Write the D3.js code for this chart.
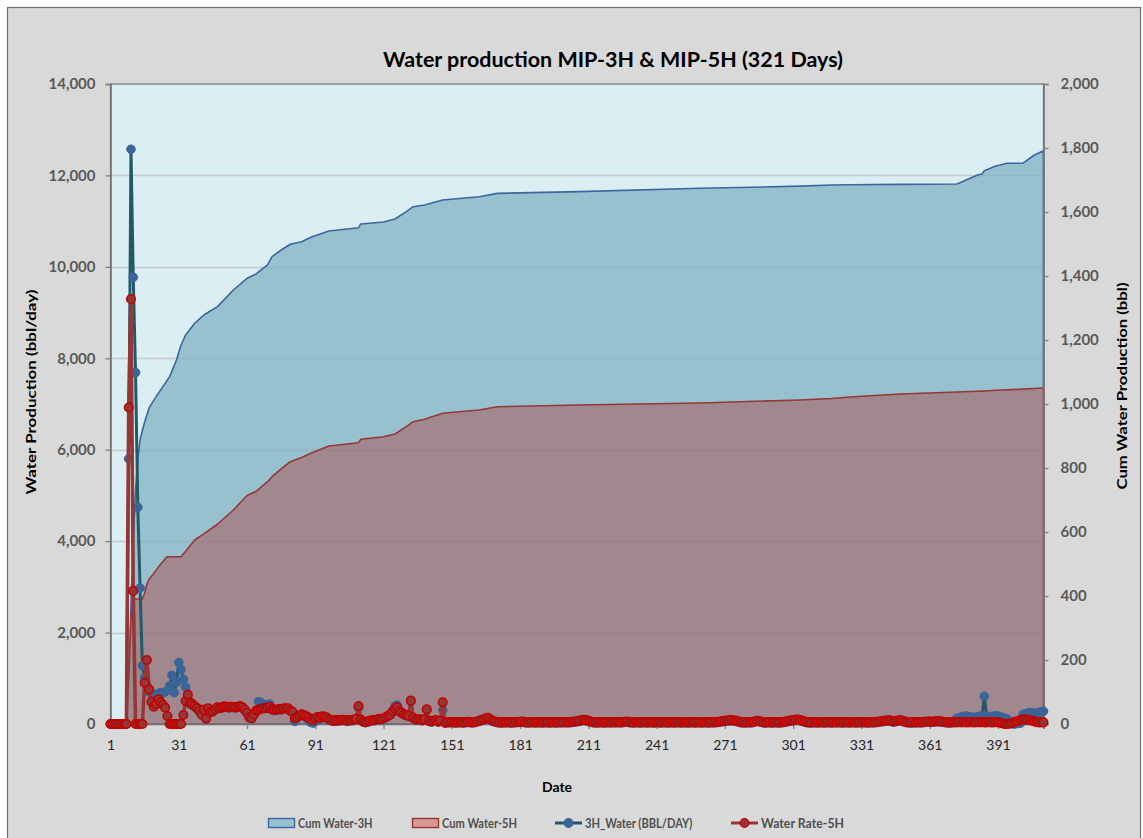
<!DOCTYPE html>
<html><head><meta charset="utf-8">
<script src="https://cdn.jsdelivr.net/npm/d3@7"></script>
<style>
html,body{margin:0;padding:0;background:#fff;}
svg{display:block;font-family:Lato,'Open Sans',sans-serif;}
</style></head><body>
<svg id="chart" width="1143" height="838"></svg>
<script>
// ---------------- DATA ----------------
const dayCount = 411;
const days = d3.range(1, dayCount + 1);           // category axis: day 1 .. 411
const xTickLabels = [1, 31, 61, 91, 121, 151, 181, 211, 241, 271, 301, 331, 361, 391];
const leftTicks = [0, 2000, 4000, 6000, 8000, 10000, 12000, 14000];
const rightTicks = [0, 200, 400, 600, 800, 1000, 1200, 1400, 1600, 1800, 2000];

// daily water rates (bbl/day)
const rate3H = [
  0,0,0,0,0,0,0,0,829,1796,
  1396,1098,677,425,182,146,120,100,95,91,
  93,95,98,96,100,105,120,152,98,130,
  192,170,140,116,80,62,58,54,48,40,
  28,42,15,46,36,38,44,50,48,50,
  53,52,50,52,51,50,52,54,50,43,
  33,19,16,28,40,70,68,62,58,60,
  62,44,42,43,45,44,46,47,47,40,
  36,8,20,24,28,26,20,12,5,3,
  8,12,15,20,21,18,13,10,8,10,
  9,10,11,10,8,10,10,12,14,50,
  12,6,4,6,8,10,10,12,14,13,
  16,20,24,28,38,56,59,38,33,28,
  26,23,70,18,13,12,13,10,13,43,
  8,6,8,10,6,8,44,3,4,4,
  4,4,3,4,4,3,4,5,4,4,
  4,6,8,10,12,14,15,11,8,6,
  4,4,3,4,4,4,3,4,4,5,
  5,6,4,4,3,4,4,3,4,4,
  3,4,4,3,4,4,3,4,4,4,
  4,4,4,5,6,7,8,10,11,10,
  8,6,4,4,3,4,4,3,4,4,
  4,4,4,4,4,4,5,6,4,4,
  3,4,4,3,4,4,3,4,4,3,
  4,4,3,4,4,3,4,4,3,4,
  4,3,4,4,3,4,4,3,4,4,
  3,4,4,3,4,4,4,5,6,7,
  8,9,10,10,9,8,6,4,4,3,
  4,4,4,6,8,7,5,4,3,4,
  4,3,4,4,3,4,5,6,8,9,
  10,11,12,10,8,6,4,4,3,4,
  4,3,4,4,3,4,4,3,4,4,
  4,4,3,4,4,3,4,4,3,4,
  4,4,4,3,4,4,4,5,6,7,
  8,9,10,8,6,7,9,10,8,6,
  4,4,3,4,4,4,4,4,5,6,
  6,5,6,7,7,6,5,4,4,3,
  4,8,18,20,22,24,25,23,22,20,
  21,23,24,26,87,25,22,20,24,26,
  25,22,20,18,16,2,1,0,1,2,
  3,30,32,34,36,35,33,34,36,38,
  40
];
const rate5H = [
  0,0,0,0,0,0,0,0,989,1328,
  416,0,0,0,0,129,200,108,69,54,
  62,77,68,60,51,25,0,0,0,0,
  0,0,28,72,92,67,62,56,50,42,
  30,45,17,49,38,40,46,52,50,52,
  55,54,52,54,53,52,54,56,52,45,
  35,21,18,30,42,44,47,49,49,52,
  54,46,44,45,47,46,48,49,49,42,
  38,18,22,26,30,28,24,20,15,12,
  18,22,20,24,23,20,15,12,10,12,
  11,12,13,12,10,12,12,14,16,56,
  14,8,6,8,10,12,12,14,16,15,
  18,22,26,30,40,48,52,40,35,30,
  28,25,73,20,15,14,15,12,15,46,
  10,8,10,12,8,10,68,4,5,6,
  6,5,5,6,5,5,6,7,6,5,
  6,8,10,12,15,18,19,14,10,8,
  6,5,5,6,5,6,5,5,6,6,
  7,8,6,5,5,6,5,5,6,5,
  5,6,5,5,6,5,5,6,5,6,
  6,5,6,7,8,9,10,12,13,12,
  10,8,6,5,5,6,5,5,6,5,
  5,6,5,6,5,6,7,8,6,5,
  5,6,5,5,6,5,5,6,5,5,
  6,5,5,6,5,5,6,5,5,6,
  5,5,6,5,5,6,5,5,6,5,
  5,6,5,5,6,5,6,7,8,9,
  10,11,12,12,11,10,8,6,5,5,
  6,5,6,8,10,9,7,5,5,6,
  5,5,6,5,5,6,7,8,10,11,
  12,13,14,12,10,8,6,5,5,6,
  5,5,6,5,5,6,5,5,6,5,
  6,5,5,6,5,5,6,5,5,6,
  5,6,5,5,6,5,6,7,8,9,
  10,11,12,10,8,9,11,12,10,8,
  6,5,5,6,5,6,5,6,7,8,
  8,7,8,9,9,8,7,6,5,5,
  6,5,5,6,5,6,5,5,6,5,
  5,6,5,6,5,5,6,5,5,6,
  5,4,2,0,0,1,3,5,8,10,
  12,14,15,13,12,10,8,6,5,5,
  5
];

// cumulative water (bbl) – read at these days
const cumDays = [
  1,8,9,10,11,12,13,14,15,16,
  17,18,20,22,25,26,27,30,32,34,
  38,42,48,55,61,65,70,72,76,80,
  85,89,97,110,111,121,126,131,134,139,
  147,163,171,207,260,304,318,326,348,373,
  382,384,385,390,392,395,402,407,411
];
const cum3H = [
  0,0,829,2625,4021,5119,5796,6221,6420,6600,
  6760,6920,7080,7233,7452,7525,7598,7963,8291,8510,
  8765,8947,9129,9494,9750,9844,10041,10222,10369,10494,
  10551,10647,10784,10857,10938,10981,11047,11207,11316,11353,
  11463,11535,11608,11645,11718,11765,11790,11795,11805,11812,
  12010,12031,12104,12206,12230,12265,12268,12447,12541
];
const cum5H = [
  0,0,989,2317,2733,2733,2733,2733,2733,2862,
  3062,3170,3293,3432,3611,3660,3660,3660,3660,3780,
  4025,4160,4370,4681,5000,5090,5300,5410,5580,5738,
  5830,5921,6081,6154,6228,6285,6344,6504,6613,6665,
  6796,6869,6941,6978,7022,7088,7120,7153,7219,7263,
  7278,7282,7285,7300,7306,7310,7325,7338,7350
];

const titleText = "Water production MIP-3H & MIP-5H (321 Days)";
const leftTitle = "Water Production (bbl/day)";
const rightTitle = "Cum Water Production (bbl)";
const xTitle = "Date";
const legendItems = [
  {name: "Cum Water-3H", kind: "area", key: "c3"},
  {name: "Cum Water-5H", kind: "area", key: "c5"},
  {name: "3H_Water (BBL/DAY)", kind: "line", key: "r3"},
  {name: "Water Rate-5H", kind: "line", key: "r5"}
];

// ---------------- STYLE ----------------
const col = {
  c3: {fill: "#97C1CF", stroke: "#3D65A0"},
  c5: {fill: "#A1888F", stroke: "#953735", legendFill: "#D99694"},
  r3: {line: "#215968", marker: "#3A6598", mstroke: "#3A6598"},
  r5: {line: "#953735", marker: "#953735", mstroke: "#C00000"}
};

const svg = d3.select("#chart");
const P = {l: 110.5, r: 1043.5, t: 84, b: 724};
const x = d3.scaleLinear().domain([1, dayCount]).range([P.l, P.r]);
const yL = d3.scaleLinear().domain([0, 14000]).range([P.b, P.t]);
const yR = d3.scaleLinear().domain([0, 2000]).range([P.b, P.t]);

// chart background
svg.append("rect").attr("x", 7.5).attr("y", 7.5).attr("width", 1133).attr("height", 860)
  .attr("fill", "#D9D9D9").attr("stroke", "#6F6F6F").attr("stroke-width", 1.2);
// plot background
svg.append("rect").attr("x", P.l).attr("y", P.t).attr("width", P.r - P.l).attr("height", P.b - P.t)
  .attr("fill", "#DBEEF3");

// gridlines (behind)
svg.append("g").selectAll("line").data(leftTicks.filter(d => d > 0)).join("line")
  .attr("x1", P.l).attr("x2", P.r).attr("y1", d => Math.round(yL(d)) + 0.5).attr("y2", d => Math.round(yL(d)) + 0.5)
  .attr("stroke", "#D3D6D8").attr("stroke-width", 1.5);

// cumulative areas (left axis)
const cumRows = cumDays.map((d, i) => ({d, a: cum3H[i], b: cum5H[i]}));
const area3 = d3.area().x(r => x(r.d)).y0(yL(0)).y1(r => yL(r.a));
const area5 = d3.area().x(r => x(r.d)).y0(yL(0)).y1(r => yL(r.b));
svg.append("path").datum(cumRows).attr("d", area3)
  .attr("fill", col.c3.fill).attr("stroke", col.c3.stroke).attr("stroke-width", 1.6).attr("stroke-linejoin", "round");
svg.append("path").datum(cumRows).attr("d", area5)
  .attr("fill", col.c5.fill).attr("stroke", col.c5.stroke).attr("stroke-width", 1.6).attr("stroke-linejoin", "round");

// faint gridlines visible through the areas
svg.append("g").selectAll("line").data(leftTicks.filter(d => d > 0 && d < 14000)).join("line")
  .attr("x1", P.l).attr("x2", P.r - 1).attr("y1", d => Math.round(yL(d)) + 0.5).attr("y2", d => Math.round(yL(d)) + 0.5)
  .attr("stroke", "rgba(90,90,90,0.10)").attr("stroke-width", 1.5);

// plot border
svg.append("rect").attr("x", P.l).attr("y", P.t).attr("width", P.r - P.l).attr("height", P.b - P.t)
  .attr("fill", "none").attr("stroke", "#7F7F7F").attr("stroke-width", 1.3);

// axes
const axL = svg.append("g").attr("transform", `translate(${P.l},0)`)
  .call(d3.axisLeft(yL).tickValues(leftTicks).tickFormat(d3.format(",")).tickSize(5).tickPadding(10));
const axR = svg.append("g").attr("transform", `translate(${P.r},0)`)
  .call(d3.axisRight(yR).tickValues(rightTicks).tickFormat(d3.format(",")).tickSize(5).tickPadding(12));
const axB = svg.append("g").attr("transform", `translate(0,${P.b})`)
  .call(d3.axisBottom(x).tickValues(xTickLabels).tickFormat(d3.format("d")).tickSize(5).tickPadding(11));
[axL, axR, axB].forEach(g => {
  g.select(".domain").attr("stroke", "#6F6F6F").attr("stroke-width", 1.5);
  g.selectAll(".tick line").attr("stroke", "#7F7F7F").attr("stroke-width", 1.3);
  g.selectAll("text").attr("font-family", "Lato, 'Open Sans', sans-serif");
});
[axL, axR].forEach(g => g.selectAll("text").attr("font-size", 15).attr("font-weight", "bold").attr("fill", "#595959"));
axB.selectAll("text").attr("font-size", 14).attr("fill", "#262626");

// rate lines (right axis)
const lineR = d3.line().x((v, i) => x(days[i])).y(v => yR(v));
function drawRate(values, c, lw, r, sw) {
  svg.append("path").datum(values).attr("d", lineR).attr("fill", "none")
    .attr("stroke", c.line).attr("stroke-width", lw).attr("stroke-linejoin", "round");
  svg.append("g").selectAll("circle").data(values).join("circle")
    .attr("cx", (v, i) => x(days[i])).attr("cy", v => yR(v)).attr("r", r)
    .attr("fill", c.marker).attr("stroke", c.mstroke).attr("stroke-width", sw);
}
drawRate(rate3H, col.r3, 3, 4.3, 1);
drawRate(rate5H, col.r5, 3.6, 4.3, 1.5);

// titles
svg.append("text").attr("x", 613).attr("y", 67).attr("text-anchor", "middle")
  .attr("font-size", 20).attr("font-weight", "bold").attr("fill", "#000")
  .attr("textLength", 460).attr("lengthAdjust", "spacingAndGlyphs").text(titleText);
svg.append("text").attr("transform", "translate(36,392) rotate(-90)").attr("text-anchor", "middle")
  .attr("font-size", 14).attr("font-weight", "bold").attr("fill", "#000")
  .attr("textLength", 205).attr("lengthAdjust", "spacingAndGlyphs").text(leftTitle);
svg.append("text").attr("transform", "translate(1127,386) rotate(-90)").attr("text-anchor", "middle")
  .attr("font-size", 14).attr("font-weight", "bold").attr("fill", "#000")
  .attr("textLength", 207).attr("lengthAdjust", "spacingAndGlyphs").text(rightTitle);
svg.append("text").attr("x", 557).attr("y", 792).attr("text-anchor", "middle")
  .attr("font-size", 14).attr("font-weight", "bold").attr("fill", "#000").text(xTitle);

// legend
const legX = [268, 412, 555, 731];
const legW = [74.6, 75, 107.4, 83];
const leg = svg.append("g");
legendItems.forEach((it, i) => {
  const g = leg.append("g").attr("transform", `translate(${legX[i]},823)`);
  const c = col[it.key];
  if (it.kind === "area") {
    g.append("rect").attr("x", 0.5).attr("y", -4.5).attr("width", 26).attr("height", 9)
      .attr("fill", c.legendFill || c.fill).attr("stroke", c.stroke).attr("stroke-width", 1.4);
  } else {
    g.append("line").attr("x1", 0).attr("x2", 27).attr("y1", 0).attr("y2", 0)
      .attr("stroke", c.line).attr("stroke-width", 3);
    g.append("circle").attr("cx", 13.5).attr("cy", 0).attr("r", 4.3)
      .attr("fill", c.marker).attr("stroke", c.mstroke).attr("stroke-width", 1.2);
  }
  g.append("text").attr("x", 30).attr("y", 5).attr("font-size", 14).attr("font-weight", "bold")
    .attr("fill", "#4F4F4F")
    .attr("textLength", legW[i]).attr("lengthAdjust", "spacingAndGlyphs").text(it.name);
});
</script>
</body></html>
